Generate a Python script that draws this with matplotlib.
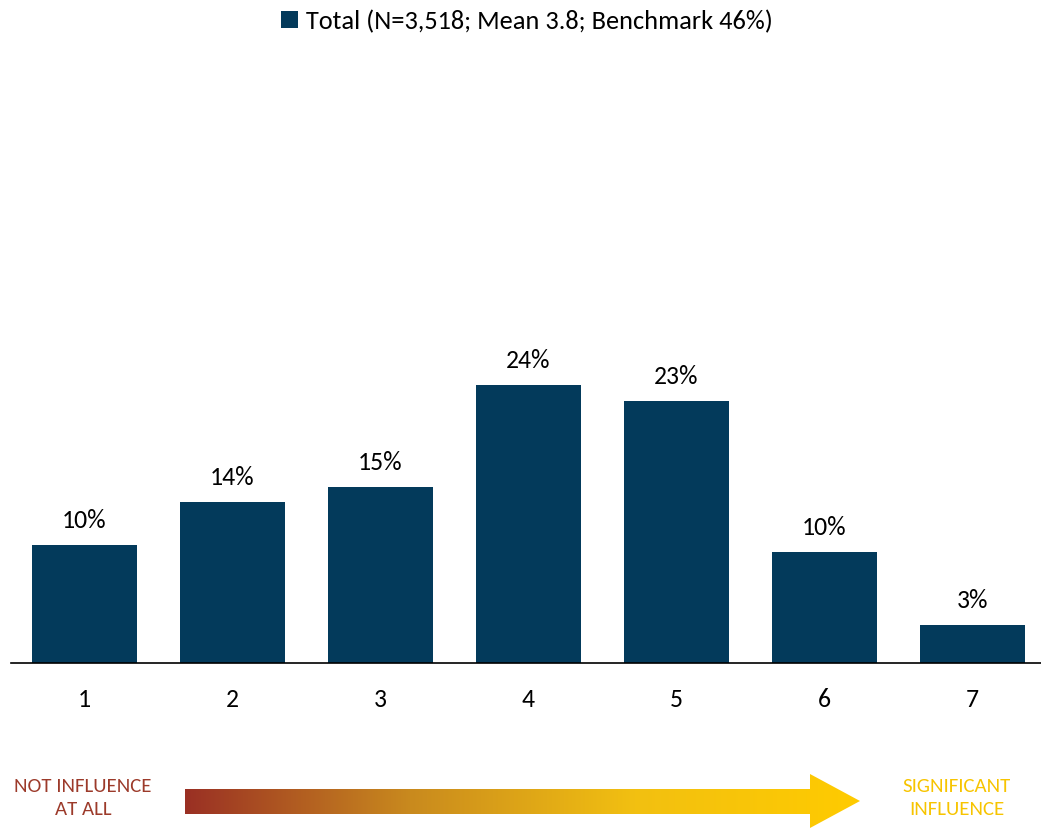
import numpy as np
import matplotlib.pyplot as plt
from matplotlib.patches import Polygon
from matplotlib.colors import LinearSegmentedColormap
from matplotlib import font_manager

names = {f.name for f in font_manager.fontManager.ttflist}
fam = [f for f in ['Carlito', 'Lato', 'DejaVu Sans'] if f in names]
plt.rcParams['font.family'] = fam

categories = ['1', '2', '3', '4', '5', '6', '7']
shares = [10.2, 13.9, 15.2, 24.0, 22.6, 9.6, 3.3]
legend_label = 'Total (N=3,518; Mean 3.8; Benchmark 46%)'
low_label = 'NOT INFLUENCE\nAT ALL'
high_label = 'SIGNIFICANT\nINFLUENCE'

bar_color = '#033a5b'
W, H = 1041, 829
fig = plt.figure(figsize=(W / 100, H / 100), dpi=100)

# main bar axes, placed in pixel terms
left_px, base_px, top_px = 10.5, 664, 60
ax = fig.add_axes([left_px / W, (H - base_px) / H, 1 - left_px / W, (base_px - top_px) / H])
x = np.arange(1, len(categories) + 1)
bars = ax.bar(x, shares, width=0.71, color=bar_color, label=legend_label)
ax.set_xlim(0.5, 0.5 + (W - left_px) / 148)
ax.set_ylim(0, (base_px - top_px) / 11.6)
for b, v in zip(bars, shares):
    ax.text(b.get_x() + b.get_width() / 2, v + 1.2, f'{v:.0f}%', ha='center', va='bottom',
            fontsize=18.5, color='black')
ax.set_xticks(x)
ax.set_xticklabels(categories, fontsize=18.5)
ax.tick_params(axis='x', length=0, pad=17)
ax.set_yticks([])
for s in ['top', 'right', 'left']:
    ax.spines[s].set_visible(False)
ax.spines['bottom'].set_linewidth(1.2)

fig.legend(handles=[bars], labels=[legend_label], loc='center', bbox_to_anchor=(527 / W, 1 - 22 / H),
           frameon=False, fontsize=19, handlelength=0.65, handleheight=0.65, handletextpad=0.3)

# gradient arrow along the bottom
ov = fig.add_axes([0, 0, 1, 1])
ov.set_xlim(0, W)
ov.set_ylim(H, 0)
ov.axis('off')
cmap = LinearSegmentedColormap.from_list('infl', ['#9a3024', '#c98a1e', '#f2c011', '#ffcb00'])
grad = np.linspace(0, 1, 256).reshape(1, -1)
img = ov.imshow(grad, cmap=cmap, extent=[185, 860, 829, 775], aspect='auto')
arrow = Polygon([(185, 790), (810, 790), (810, 775), (860, 802), (810, 829), (810, 815), (185, 815)],
                closed=True, facecolor='none', edgecolor='none')
ov.add_patch(arrow)
img.set_clip_path(arrow)
ov.text(83, 798, low_label, ha='center', va='center', fontsize=15, color='#9c3a2a', linespacing=1.45)
ov.text(957, 798, high_label, ha='center', va='center', fontsize=15, color='#f7c400', linespacing=1.45)

fig.savefig('out.png', dpi=100)
